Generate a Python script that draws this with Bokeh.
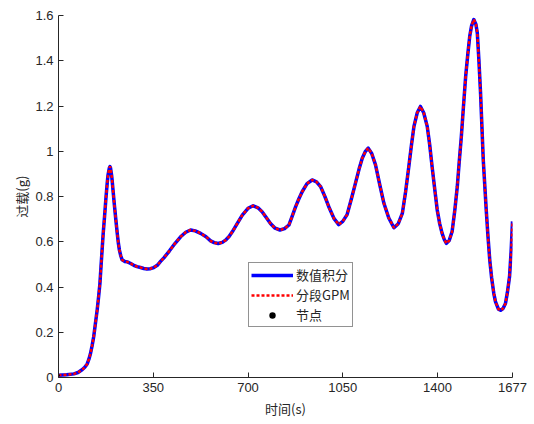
from bokeh.plotting import figure
from bokeh.models import FixedTicker, Range1d, Legend, LegendItem
from bokeh.embed import file_html
from bokeh.resources import INLINE

# Data
t = [0, 30, 57, 72, 87, 97, 106, 112, 118, 124, 130, 136, 143, 148, 153, 157, 161,
     165, 170, 175, 180, 183, 186, 188, 190, 192, 194, 196, 198, 202, 207, 212,
     217, 221, 225, 230, 235, 245, 254, 265, 278, 290, 303, 315, 327, 340, 352,
     365, 377, 390, 410, 430, 451, 470, 488, 505, 525, 545, 562, 575, 590, 605,
     617, 630, 642, 660, 679, 700, 719, 737, 752, 768, 783, 800, 818, 835, 851,
     863, 876, 888, 900, 918, 937, 953, 968, 984, 1000, 1018, 1035, 1050, 1066,
     1082, 1097, 1110, 1122, 1133, 1144, 1157, 1171, 1186, 1202, 1220, 1239,
     1255, 1270, 1282, 1294, 1304, 1313, 1325, 1337, 1349, 1362, 1371, 1380,
     1390, 1399, 1408, 1417, 1425, 1433, 1443, 1454, 1464, 1473, 1480, 1488,
     1496, 1504, 1512, 1519, 1526, 1534, 1542, 1547, 1553, 1559, 1564, 1569,
     1575, 1580, 1586, 1593, 1600, 1608, 1614, 1625, 1633, 1642, 1651, 1658,
     1666, 1672, 1677]
g = [0.01, 0.012, 0.016, 0.022, 0.034, 0.045, 0.06, 0.08, 0.105, 0.14, 0.18, 0.235,
     0.30, 0.355, 0.415, 0.49, 0.563, 0.635, 0.71, 0.79, 0.86, 0.895, 0.915, 0.927,
     0.932, 0.927, 0.91, 0.895, 0.873, 0.82, 0.755, 0.695, 0.637, 0.595, 0.563,
     0.538, 0.52, 0.513, 0.511, 0.505, 0.496, 0.49, 0.486, 0.482, 0.48, 0.481,
     0.486, 0.496, 0.513, 0.53, 0.56, 0.592, 0.622, 0.642, 0.652, 0.648, 0.637,
     0.622, 0.604, 0.596, 0.592, 0.597, 0.607, 0.623, 0.644, 0.68, 0.718, 0.748,
     0.759, 0.75, 0.733, 0.706, 0.681, 0.66, 0.652, 0.658, 0.674, 0.712, 0.755,
     0.79, 0.821, 0.857, 0.873, 0.865, 0.844, 0.8, 0.75, 0.702, 0.676, 0.69,
     0.72, 0.79, 0.859, 0.92, 0.969, 0.998, 1.014, 0.99, 0.94, 0.856, 0.77,
     0.705, 0.662, 0.68, 0.725, 0.82, 0.932, 1.03, 1.11, 1.17, 1.198, 1.17,
     1.11, 1.03, 0.932, 0.83, 0.74, 0.68, 0.637, 0.61, 0.593, 0.605, 0.645,
     0.74, 0.843, 0.95, 1.065, 1.2, 1.331, 1.43, 1.508, 1.555, 1.582, 1.56,
     1.523, 1.40, 1.257, 1.11, 0.962, 0.84, 0.74, 0.63, 0.519, 0.44, 0.371,
     0.335, 0.302, 0.297, 0.305, 0.327, 0.375, 0.445, 0.56, 0.69]

node_t = [0]
node_g = [0.01]

x_ticks = [0, 350, 700, 1050, 1400, 1677]
y_ticks = [0, 0.2, 0.4, 0.6, 0.8, 1.0, 1.2, 1.4, 1.6]
y_tick_labels = ["0", "0.2", "0.4", "0.6", "0.8", "1", "1.2", "1.4", "1.6"]

labels = ["数值积分", "分段GPM", "节点"]
x_label = "时间(s)"
y_label = "过载(g)"

p = figure(width=534, height=424, output_backend="svg", toolbar_location=None,
           x_range=Range1d(0, 1677), y_range=Range1d(0, 1.6),
           frame_width=454, frame_height=362,
           min_border_left=58, min_border_right=22, min_border_top=15, min_border_bottom=47)
p.background_fill_color = "white"
p.border_fill_color = "white"
p.outline_line_color = None
p.grid.visible = False

axis_color = "#262626"
tick_font = "Liberation Sans"
for ax in (p.xaxis[0], p.yaxis[0]):
    ax.axis_line_color = axis_color
    ax.axis_line_width = 1
    ax.major_tick_line_color = axis_color
    ax.major_tick_in = 5
    ax.major_tick_out = 0
    ax.minor_tick_line_color = None
    ax.major_label_text_color = axis_color
    ax.major_label_text_font = tick_font
    ax.major_label_text_font_size = "13px"
    ax.major_label_standoff = 5
    ax.axis_label_text_font = "Noto Sans CJK SC"
    ax.axis_label_text_font_size = "13px"
    ax.axis_label_text_font_style = "normal"
    ax.axis_label_text_color = axis_color

p.xaxis[0].ticker = FixedTicker(ticks=x_ticks)
p.yaxis[0].ticker = FixedTicker(ticks=y_ticks)
p.yaxis[0].major_label_overrides = {v: s for v, s in zip(y_ticks, y_tick_labels)}
p.xaxis[0].axis_label = x_label
p.yaxis[0].axis_label = y_label
p.xaxis[0].axis_label_standoff = 4
p.yaxis[0].axis_label_standoff = 1

r1 = p.line(t, g, line_color="#0000FF", line_width=3.5, line_join="round")
r2 = p.line(t, g, line_color="#FF0000", line_width=2.5, line_dash="3 2")
r3 = p.scatter(node_t, node_g, size=2.5, fill_color="black", line_color=None)

legend = Legend(items=[LegendItem(label=labels[0], renderers=[r1]),
                       LegendItem(label=labels[1], renderers=[r2]),
                       LegendItem(label=labels[2], renderers=[r3])],
                location=(190, 50))
legend.label_text_font = "Noto Sans CJK SC"
legend.label_text_font_size = "13px"
legend.label_text_color = axis_color
legend.glyph_width = 42
legend.glyph_height = 16
legend.label_height = 16
legend.label_standoff = 3
legend.spacing = 1
legend.padding = 2
legend.margin = 0
legend.border_line_color = axis_color
legend.border_line_width = 1
legend.background_fill_alpha = 1
p.add_layout(legend, "center")

open("out.html", "w").write(file_html(p, INLINE))
